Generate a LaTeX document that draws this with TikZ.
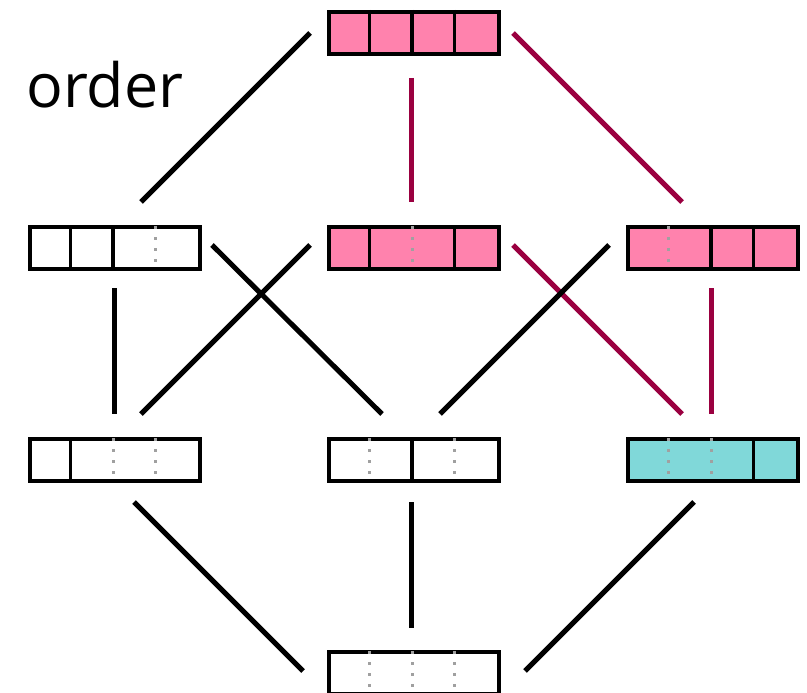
\documentclass[tikz,border=0pt]{standalone}
\usepackage{fontspec}
\setmainfont{Open Sans}
\usetikzlibrary{calc}
\definecolor{pinkf}{HTML}{FF82AD}
\definecolor{cyanf}{HTML}{80D8D9}
\definecolor{crim}{HTML}{9A0040}
\definecolor{dotg}{HTML}{A0A0A0}
\begin{document}
\begin{tikzpicture}[x=1pt,y=-1pt,
  cellbox/.style={draw=black,line width=3.6pt,minimum width=170pt,minimum height=42pt,inner sep=0pt,anchor=north west},
  solidsep/.style={line width=3.2pt},
  dotsep/.style={dotg,line width=3pt,dash pattern=on 3pt off 8pt},
  blk/.style={black,line width=5pt},
  red/.style={crim,line width=5pt}]
\useasboundingbox (0,0) rectangle (807,693);
% boxes
\node[cellbox,fill=pinkf] (T) at (327,10) {};
\node[cellbox,fill=white] (L2) at (28,225) {};
\node[cellbox,fill=pinkf] (M2) at (327,225) {};
\node[cellbox,fill=pinkf] (R2) at (626,225) {};
\node[cellbox,fill=white] (L3) at (28,437) {};
\node[cellbox,fill=white] (M3) at (327,437) {};
\node[cellbox,fill=cyanf] (R3) at (626,437) {};
\node[cellbox,fill=white] (B) at (327,650) {};
% dividers: solid
\foreach \n/\k in {T/1,T/2,T/3,L2/1,L2/2,M2/1,M2/3,R2/2,R2/3,L3/1,M3/2,R3/3}{
  \draw[solidsep] ($(\n.north west)+(42.5*\k,0)$) -- ($(\n.south west)+(42.5*\k,0)$);
}
% dividers: dotted
\foreach \n/\k in {L2/3,M2/2,R2/1,L3/2,L3/3,M3/1,M3/3,R3/1,R3/2,B/1,B/2,B/3}{
  \draw[dotsep] ($(\n.north west)+(42.5*\k,1)$) -- ($(\n.south west)+(42.5*\k,-3)$);
}
\node[anchor=base west,font=\fontsize{61}{61}\selectfont,inner sep=0pt] (ord) at (26,108) {order};
% connector endpoints
\coordinate (a1) at (310,33);  \coordinate (a2) at (141,202);
\coordinate (b1) at (411,78);  \coordinate (b2) at (411,202);
\coordinate (c1) at (513,33);  \coordinate (c2) at (682,202);
\coordinate (d1) at (114,288); \coordinate (d2) at (114,414);
\coordinate (e1) at (212,245); \coordinate (e2) at (382,414);
\coordinate (f1) at (310,245); \coordinate (f2) at (141,414);
\coordinate (g1) at (513,245); \coordinate (g2) at (682,414);
\coordinate (h1) at (609,245); \coordinate (h2) at (440,414);
\coordinate (i1) at (711,288); \coordinate (i2) at (711,414);
\coordinate (j1) at (134,502); \coordinate (j2) at (303,671);
\coordinate (k1) at (411,502); \coordinate (k2) at (411,628);
\coordinate (l1) at (694,502); \coordinate (l2) at (525,671);
\draw[blk] (a1) -- (a2);
\draw[red] (b1) -- (b2);
\draw[red] (c1) -- (c2);
\draw[blk] (d1) -- (d2);
\draw[blk] (e1) -- (e2);
\draw[blk] (f1) -- (f2);
\draw[red] (g1) -- (g2);
\draw[blk] (h1) -- (h2);
\draw[red] (i1) -- (i2);
\draw[blk] (j1) -- (j2);
\draw[blk] (k1) -- (k2);
\draw[blk] (l1) -- (l2);
\end{tikzpicture}
\end{document}
